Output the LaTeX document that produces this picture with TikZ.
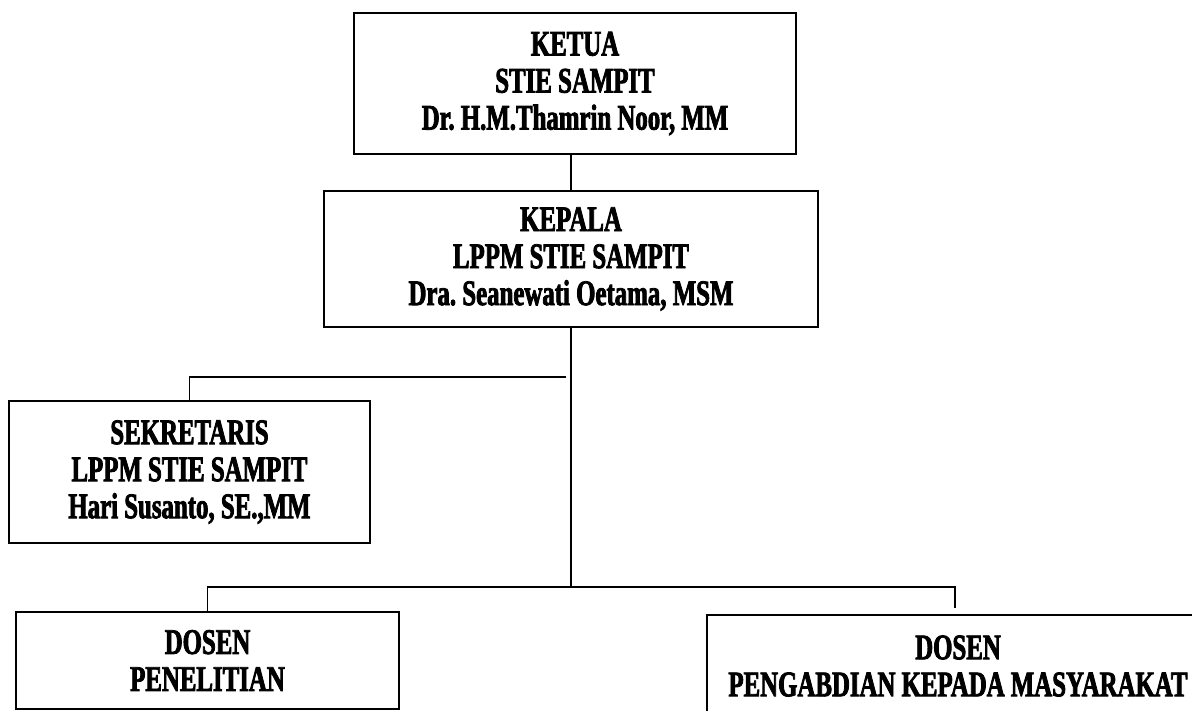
\documentclass[tikz,border=0pt]{standalone}
\usepackage{fontspec}
\newfontfamily\orgfont{Liberation Serif}[FakeStretch=0.69,FakeBold=2.2]
\frenchspacing
\begin{document}
\begin{tikzpicture}[x=1pt,y=-1pt,
  orgbox/.style={draw,line width=1.6pt,rectangle,inner sep=0pt,align=center,
    font=\orgfont\bfseries\fontsize{36}{37}\selectfont\frenchspacing},
  link/.style={line width=1.6pt}]
\clip (0,0) rectangle (1192,711);
\fill[white] (0,0) rectangle (1192,711);
\node[orgbox,minimum width=442pt,minimum height=141pt] (k1) at (575,83.5)
  {KETUA\\STIE SAMPIT\\Dr. H.M.Thamrin Noor, MM};
\node[orgbox,minimum width=494pt,minimum height=136pt] (k2) at (571,259)
  {KEPALA\\LPPM STIE SAMPIT\\Dra. Seanewati Oetama, MSM};
\node[orgbox,minimum width=361pt,minimum height=142pt] (sek) at (189.5,472)
  {SEKRETARIS\\LPPM STIE SAMPIT\\Hari Susanto, SE.,MM};
\node[orgbox,minimum width=383pt,minimum height=97pt] (dp) at (207.5,660.5)
  {DOSEN\\PENELITIAN};
\node[orgbox,minimum width=502pt,minimum height=102pt] (pkm) at (958,666)
  {DOSEN\\PENGABDIAN KEPADA MASYARAKAT};
\coordinate (c1) at (566,377);
\coordinate (j2) at (571,587);
\coordinate (j3) at (955,607.5);
\draw[link] (k2.north) -- (k2.north |- k1.south);
\draw[link] (k2.south) -- (j2);
\draw[link] (c1) -| (sek.north);
\draw[link] (dp.north) |- (j2) -| (j3);
\end{tikzpicture}
\end{document}
